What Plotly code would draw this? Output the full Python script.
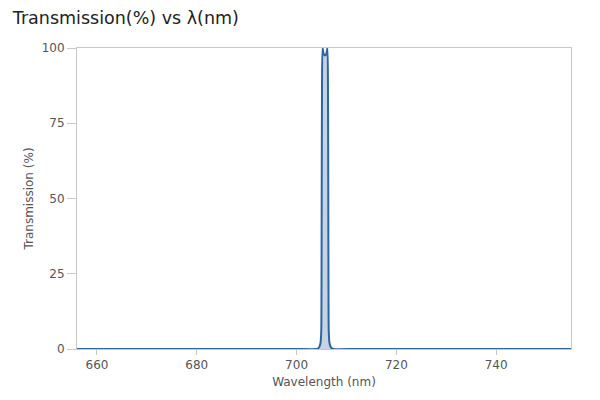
import plotly.graph_objects as go

# transmission spectrum
wavelength = [656, 700, 704.0, 704.5, 704.8, 704.95, 705.0, 705.04, 705.1, 705.2,
              705.45, 705.7, 705.95, 706.2, 706.3, 706.36, 706.4, 706.45, 706.6, 706.9, 707.4, 712, 755]
transmission = [0, 0, 0, 0.5, 2, 6, 20, 50, 85, 100,
                98, 97.5, 98, 100, 85, 50, 20, 6, 2, 0.5, 0, 0, 0]

x_ticks = [660, 680, 700, 720, 740]
y_ticks = [0, 25, 50, 75, 100]

fig = go.Figure()
fig.add_trace(go.Scatter(
    x=wavelength,
    y=transmission,
    mode="lines",
    line=dict(color="#2f64a0", width=2, shape="spline", smoothing=0.5),
    fill="tozeroy",
    fillcolor="rgba(47,100,160,0.28)",
    hoverinfo="x+y",
))

# page has an 8px body margin, so margins are shifted by that much
fig.update_layout(
    width=600,
    height=400,
    autosize=False,
    plot_bgcolor="white",
    paper_bgcolor="white",
    showlegend=False,
    font=dict(family="DejaVu Sans", color="#555555", size=12),
    title=dict(text="Transmission(%) vs λ(nm)", x=0.008, xanchor="left", y=0.975, yanchor="middle",
               font=dict(size=17.5, color="#222222")),
    margin=dict(l=69, r=37, t=40, b=59),
)
fig.update_xaxes(
    range=[656, 755],
    tickvals=x_ticks,
    showgrid=False,
    zeroline=False,
    showline=True,
    linecolor="#c8c8c8",
    mirror=True,
    ticks="outside",
    ticklen=5,
    tickcolor="#c8c8c8",
    title=dict(text="Wavelength (nm)", font=dict(size=12, color="#555555"), standoff=6),
)
fig.update_yaxes(
    range=[0, 100],
    tickvals=y_ticks,
    showgrid=False,
    zeroline=False,
    showline=True,
    linecolor="#c8c8c8",
    mirror=True,
    ticks="outside",
    ticklen=9,
    tickcolor="#c8c8c8",
    title=dict(text="Transmission (%)", font=dict(size=12, color="#555555"), standoff=5),
)

fig.write_html("out.html")
